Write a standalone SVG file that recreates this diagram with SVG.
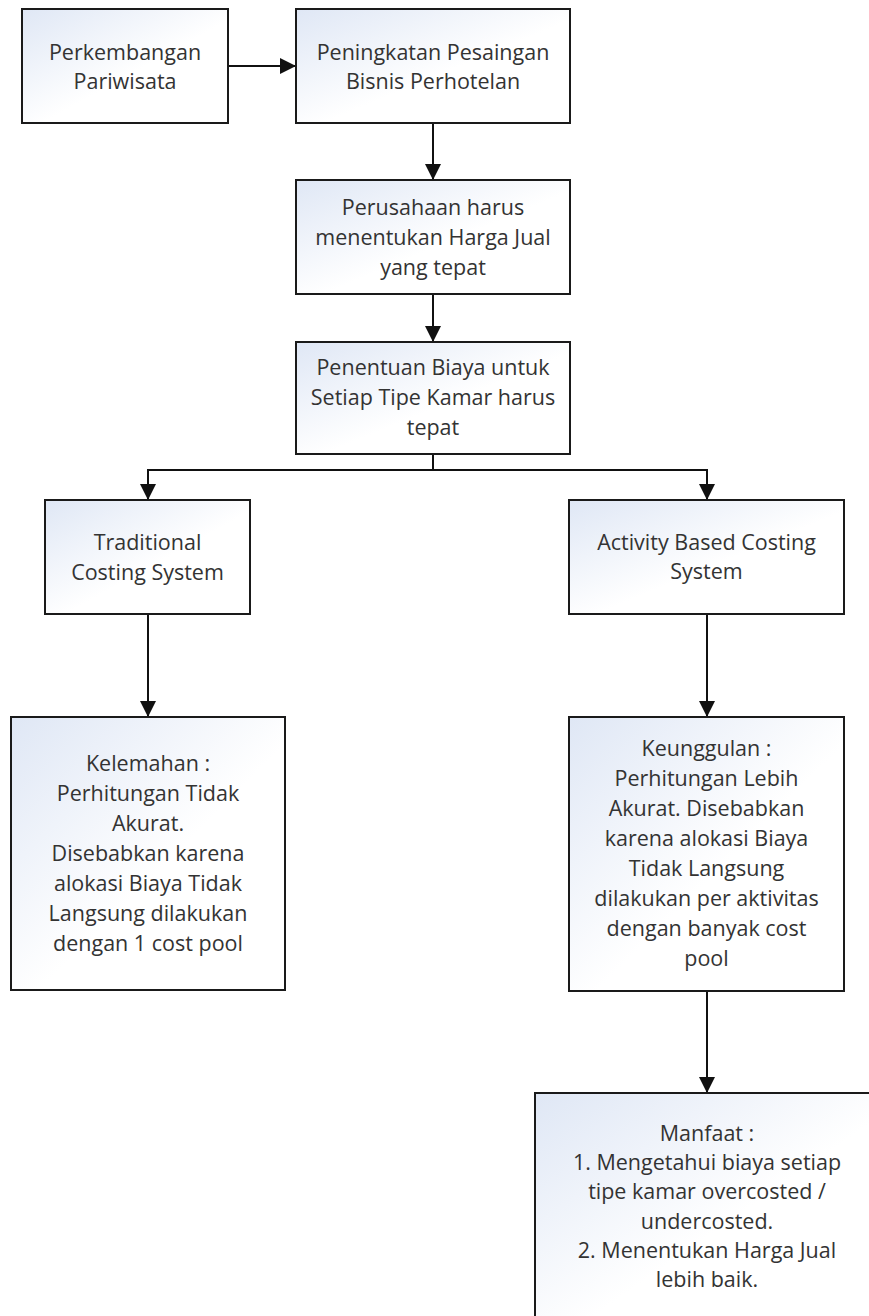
<svg xmlns="http://www.w3.org/2000/svg" width="869" height="1316" viewBox="0 0 869 1316">
<defs>
<linearGradient id="fill" x1="0" y1="0" x2="1" y2="1">
<stop offset="0" stop-color="#dfe7f5"/>
<stop offset="0.55" stop-color="#ffffff"/>
<stop offset="1" stop-color="#ffffff"/>
</linearGradient>
<marker id="arr" markerUnits="userSpaceOnUse" markerWidth="16" markerHeight="16" refX="16" refY="8" orient="auto">
<path d="M0,0 L16,8 L0,16 z" fill="#111"/>
</marker>
<style>
.box{fill:url(#fill);stroke:#1a1a1a;stroke-width:2}
.t{font-family:"Open Sans","Noto Sans",sans-serif;font-size:21.5px;fill:#333;text-anchor:middle}
.c{stroke:#111;stroke-width:2;fill:none}
.a{marker-end:url(#arr)}
</style>
</defs>
<rect width="869" height="1316" fill="#fff"/>
<g id="connectors">
<line class="c a" x1="228" y1="66" x2="296" y2="66"/>
<line class="c a" x1="433" y1="123" x2="433" y2="180"/>
<line class="c a" x1="433" y1="294" x2="433" y2="342"/>
<line class="c" x1="433" y1="454" x2="433" y2="470"/>
<line class="c" x1="147" y1="470" x2="708" y2="470"/>
<line class="c a" x1="148" y1="469" x2="148" y2="500"/>
<line class="c a" x1="707" y1="469" x2="707" y2="500"/>
<line class="c a" x1="148" y1="614" x2="148" y2="717"/>
<line class="c a" x1="707" y1="614" x2="707" y2="717"/>
<line class="c a" x1="707" y1="991" x2="707" y2="1093"/>
</g>
<g id="n1">
<rect class="box" x="22" y="9" width="206" height="114"/>
<text class="t" x="125" y="60">Perkembangan</text>
<text class="t" x="125" y="89">Pariwisata</text>
</g>
<g id="n2">
<rect class="box" x="296" y="9" width="274" height="114"/>
<text class="t" x="433" y="60">Peningkatan Pesaingan</text>
<text class="t" x="433" y="89">Bisnis Perhotelan</text>
</g>
<g id="n3">
<rect class="box" x="296" y="180" width="274" height="114"/>
<text class="t" x="433" y="215">Perusahaan harus</text>
<text class="t" x="433" y="245">menentukan Harga Jual</text>
<text class="t" x="433" y="275">yang tepat</text>
</g>
<g id="n4">
<rect class="box" x="296" y="342" width="274" height="112"/>
<text class="t" x="433" y="375">Penentuan Biaya untuk</text>
<text class="t" x="433" y="405">Setiap Tipe Kamar harus</text>
<text class="t" x="433" y="435">tepat</text>
</g>
<g id="n5">
<rect class="box" x="45" y="500" width="205" height="114"/>
<text class="t" x="147.5" y="550">Traditional</text>
<text class="t" x="147.5" y="580">Costing System</text>
</g>
<g id="n6">
<rect class="box" x="569" y="500" width="275" height="114"/>
<text class="t" x="706.5" y="550">Activity Based Costing</text>
<text class="t" x="706.5" y="579">System</text>
</g>
<g id="n7">
<rect class="box" x="11" y="717" width="274" height="273"/>
<text class="t" x="148" y="771">Kelemahan :</text>
<text class="t" x="148" y="801">Perhitungan Tidak</text>
<text class="t" x="148" y="831">Akurat.</text>
<text class="t" x="148" y="861">Disebabkan karena</text>
<text class="t" x="148" y="891">alokasi Biaya Tidak</text>
<text class="t" x="148" y="921">Langsung dilakukan</text>
<text class="t" x="148" y="951">dengan 1 cost pool</text>
</g>
<g id="n8">
<rect class="box" x="569" y="717" width="275" height="274"/>
<text class="t" x="706.5" y="756">Keunggulan :</text>
<text class="t" x="706.5" y="786">Perhitungan Lebih</text>
<text class="t" x="706.5" y="816">Akurat. Disebabkan</text>
<text class="t" x="706.5" y="846">karena alokasi Biaya</text>
<text class="t" x="706.5" y="876">Tidak Langsung</text>
<text class="t" x="706.5" y="906">dilakukan per aktivitas</text>
<text class="t" x="706.5" y="936">dengan banyak cost</text>
<text class="t" x="706.5" y="966">pool</text>
</g>
<g id="n9">
<rect class="box" x="535" y="1093" width="344" height="240"/>
<text class="t" x="707" y="1141">Manfaat :</text>
<text class="t" x="707" y="1170">1. Mengetahui biaya setiap</text>
<text class="t" x="707" y="1199">tipe kamar overcosted /</text>
<text class="t" x="707" y="1229">undercosted.</text>
<text class="t" x="707" y="1258">2. Menentukan Harga Jual</text>
<text class="t" x="707" y="1287">lebih baik.</text>
</g>
</svg>
